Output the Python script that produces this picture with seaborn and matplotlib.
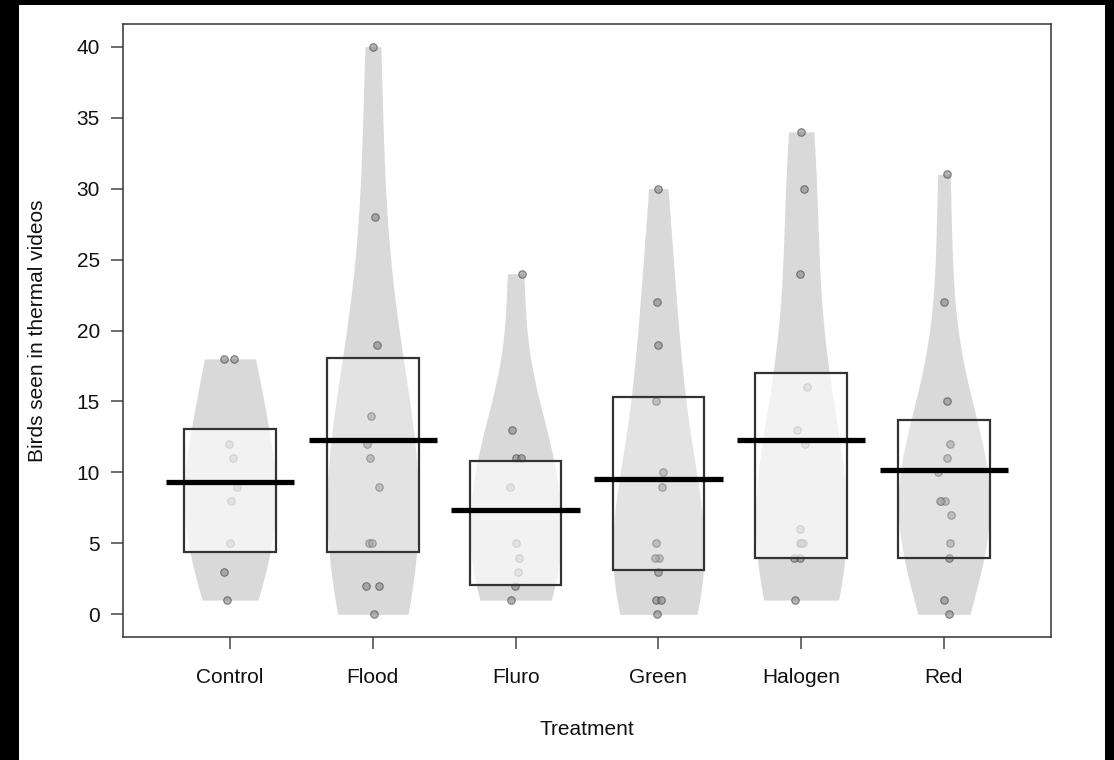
import numpy as np
import pandas as pd
import matplotlib
matplotlib.use("Agg")
import matplotlib.pyplot as plt
import seaborn as sns
from matplotlib.patches import Rectangle

# Bird counts per lighting treatment
treatments = ["Control", "Flood", "Fluro", "Green", "Halogen", "Red"]
control = [18, 18, 12, 11, 9, 8, 5, 3, 1]
flood = [40, 28, 19, 14, 12, 11, 9, 5, 5, 2, 2, 0]
fluro = [24, 13, 11, 11, 9, 5, 4, 3, 2, 1]
green = [30, 22, 19, 15, 10, 9, 5, 4, 4, 3, 1, 1, 0]
halogen = [34, 30, 24, 16, 13, 12, 6, 5, 5, 5, 4, 4, 1]
red = [31, 22, 15, 12, 11, 10, 8, 8, 8, 7, 5, 4, 1, 0]

# Group means and inference band limits
means = [9.33, 12.27, 7.38, 9.55, 12.27, 10.2]
band_low = [4.37, 4.37, 2.05, 3.1, 3.97, 4.0]
band_high = [13.03, 18.04, 10.79, 15.3, 16.98, 13.69]

y_ticks = [0, 5, 10, 15, 20, 25, 30, 35, 40]

series = [control, flood, fluro, green, halogen, red]
df = pd.DataFrame({
    "Treatment": np.repeat(treatments, [len(s) for s in series]),
    "Birds": np.concatenate(series).astype(float),
})

sns.set_theme(style="white")
plt.rcParams["font.family"] = ["Liberation Sans", "DejaVu Sans"]

fig = plt.figure(figsize=(11.14, 7.6), dpi=100)
fig.patch.set_facecolor("white")
ax = fig.add_axes([123 / 1114, 1 - 637 / 760, (1051 - 123) / 1114, (637 - 24) / 760])

# Beans: smoothed densities truncated at each group's range
sns.violinplot(data=df, x="Treatment", y="Birds", order=treatments, cut=0,
               inner=None, density_norm="width", width=0.64, color="#d9d9d9",
               linewidth=0, saturation=1, bw_method="scott", bw_adjust=1.15,
               ax=ax, zorder=1)

# Raw points
np.random.seed(7)
sns.stripplot(data=df, x="Treatment", y="Birds", order=treatments, jitter=0.05,
              size=5.4, color="#858585", edgecolor="#3c3c3c", linewidth=0.8,
              alpha=0.6, ax=ax, zorder=2)

# Inference bands and mean lines
band_alpha = [0.68, 0.28, 0.68, 0.28, 0.68, 0.28]
for i in range(len(treatments)):
    ax.add_patch(Rectangle((i - 0.32, band_low[i]), 0.64, band_high[i] - band_low[i],
                           facecolor=(1, 1, 1, band_alpha[i]), edgecolor="#333333",
                           linewidth=1.6, zorder=3))
ax.hlines(means, np.arange(len(treatments)) - 0.45, np.arange(len(treatments)) + 0.45,
          color="black", linewidth=3.8, zorder=4)

ax.set_xlim(-0.75, 5.75)
ax.set_ylim(-1.6, 41.6)
ax.set_yticks(y_ticks)
ax.set_yticklabels([str(t) for t in y_ticks])

for sp in ax.spines.values():
    sp.set_visible(True)
    sp.set_color("#333333")
    sp.set_linewidth(1.1)

ax.tick_params(axis="both", which="both", direction="out", length=8.6, width=1.1,
               color="#444444", labelsize=15, labelcolor="#111111",
               bottom=True, left=True, top=False, right=False)
ax.tick_params(axis="y", pad=8)
ax.tick_params(axis="x", pad=13.5)
ax.set_xlabel("Treatment", fontsize=15, color="#111111", labelpad=24)
ax.set_ylabel("Birds seen in thermal videos", fontsize=15, color="#111111", labelpad=21)
ax.grid(False)

# Dark frame strips along the image edges
for (x0, y0, w, h) in [(0, 0, 19, 760), (0, 755, 1114, 5), (1105, 0, 9, 760)]:
    fig.patches.append(Rectangle((x0 / 1114, y0 / 760), w / 1114, h / 760,
                                 transform=fig.transFigure, facecolor="black",
                                 edgecolor="none", zorder=10))

fig.savefig("out.png", dpi=100)
